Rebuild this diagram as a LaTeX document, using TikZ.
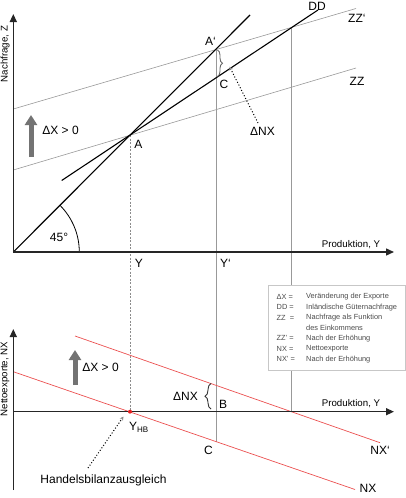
\documentclass[tikz,border=0pt]{standalone}
\usepackage{fontspec}
\setmainfont{Liberation Sans}
\usetikzlibrary{arrows.meta,decorations.pathreplacing}
\begin{document}
\begin{tikzpicture}[x=1pt,y=-1pt,
  axis/.style={line width=1.4pt,draw=black!85,-{Triangle[length=8pt,width=7pt]}},
  thinline/.style={line width=0.6pt,draw=black!40},
  mainline/.style={line width=1.1pt,draw=black},
  redline/.style={line width=0.7pt,draw={rgb,255:red,235;green,80;blue,80}},
  lbl/.style={font=\fontsize{12}{14}\selectfont,inner sep=0pt},
  axlbl/.style={font=\fontsize{9.7}{11}\selectfont,inner sep=0pt},
  leg/.style={font=\fontsize{7.4}{8}\selectfont,text=black!70,inner sep=0pt,anchor=west},
  bigarrow/.style={line width=5pt,draw=black!55,-{Triangle[length=10pt,width=12pt]}},
  leader/.style={dotted,line width=1pt,-{Stealth[length=4pt,width=4pt,black!45]}},
  bracestyle/.style={decorate,decoration={brace,amplitude=5pt}}
]
\useasboundingbox (0,0) rectangle (406,498);
% ---------- coordinates: upper diagram
\coordinate (O) at (13.3,252);
\coordinate (Ytop) at (13.3,14);
\coordinate (Xend) at (394,252);
\coordinate (L45) at (250,15);
\coordinate (DD1) at (61.7,180.5);
\coordinate (DD2) at (318,10);
\coordinate (ZZ1) at (13.3,170);
\coordinate (ZZ2) at (356,68);
\coordinate (ZZp1) at (13.3,109);
\coordinate (ZZp2) at (356,8.5);
\coordinate (A) at (130,135);
\coordinate (Ap) at (216.7,49.3);
\coordinate (Cu) at (216.7,77);
\coordinate (Q) at (291.7,27);
\coordinate (arc0) at (79.3,252);
% ---------- coordinates: lower diagram
\coordinate (O2) at (13.3,411.7);
\coordinate (Y2top) at (13.3,329);
\coordinate (Y2bot) at (13.3,490);
\coordinate (X2end) at (394,411.7);
\coordinate (YHB) at (130,411.7);
\coordinate (Cl) at (216.7,442);
\coordinate (Q2) at (291.7,411.7);
\coordinate (NX1) at (13.3,371.7);
\coordinate (NX2) at (355,489.5);
\coordinate (NXp1) at (75,336);
\coordinate (NXp2) at (380,442.7);
\coordinate (GA1) at (31,157);
\coordinate (GA2) at (31,115);
\coordinate (GB1) at (75,385);
\coordinate (GB2) at (75,350);
\coordinate (brU1) at (217.5,50);
\coordinate (brU2) at (217.5,76.5);
\coordinate (brL1) at (211,409);
\coordinate (brL2) at (211,383.5);
\coordinate (ldU1) at (258,123);
\coordinate (ldU2) at (229.5,66.5);
\coordinate (ldL1) at (88,468);
\coordinate (ldL2) at (123.5,416.5);

% ---------- thin gray lines
\draw[thinline] (ZZ1) -- (ZZ2);
\draw[thinline] (ZZp1) -- (ZZp2);
\draw[thinline] (Ap) -- (Cl);
\draw[thinline] (Q) -- (Q2);
\draw[thinline,dashed,dash pattern=on 2pt off 1.5pt,draw=black!45] (A) -- (YHB);

% ---------- main lines
\draw[mainline] (O) -- (L45);
\draw[mainline] (DD1) -- (DD2);
\draw[line width=0.8pt] (arc0) arc[start angle=0,end angle=-45,radius=66];

% ---------- red lines
\draw[redline] (NX1) -- (NX2);
\draw[redline] (NXp1) -- (NXp2);

% ---------- axes
\draw[axis] (O) -- (Ytop);
\draw[axis] (O) -- (Xend);
\draw[axis] (Y2bot) -- (Y2top);
\draw[axis] (O2) -- (X2end);

\node[circle,fill={rgb,255:red,230;green,30;blue,30},inner sep=0pt,minimum size=4pt] (dot) at (YHB) {};

% ---------- big gray arrows
\draw[bigarrow] (GA1) -- (GA2);
\draw[bigarrow] (GB1) -- (GB2);

% ---------- braces and leaders
\draw[bracestyle,draw=black!60,line width=0.9pt] (brU1) -- (brU2);
\draw[decorate,decoration={brace,amplitude=6pt},line width=0.9pt,draw=black!80] (brL1) -- (brL2);
\draw[leader] (ldU1) -- (ldU2);
\draw[leader] (ldL1) -- (ldL2);

% ---------- legend
\node[draw=black!22,fill=white,line width=0.6pt,minimum width=137pt,minimum height=85pt,inner sep=0pt] (legend) at (336.5,327.5) {};
\node[leg] (l1a) at (276.5,296.7) {ΔX =};
\node[leg] (l1b) at (306,296.7) {Veränderung der Exporte};
\node[leg] (l2a) at (276.5,307.1) {DD =};
\node[leg] (l2b) at (306,307.1) {Inländische Güternachfrage};
\node[leg] (l3a) at (276.5,317.5) {ZZ \ =};
\node[leg] (l3b) at (306,317.5) {Nachfrage als Funktion};
\node[leg] (l4b) at (306,327.9) {des Einkommens};
\node[leg] (l5a) at (276.5,338.3) {ZZ' =};
\node[leg] (l5b) at (306,338.3) {Nach der Erhöhung};
\node[leg] (l6a) at (276.5,348.7) {NX =};
\node[leg] (l6b) at (306,348.7) {Nettoexporte};
\node[leg] (l7a) at (276.5,359.1) {NX' =};
\node[leg] (l7b) at (306,359.1) {Nach der Erhöhung};

% ---------- labels upper
\node[axlbl,rotate=90] (ylab) at (5,54) {Nachfrage, Z};
\node[axlbl] (xlab) at (351,245) {Produktion, Y};
\node[lbl] (tDD) at (317,6.5) {DD};
\node[lbl,anchor=west] (tZZp) at (348,18.3) {ZZ‘};
\node[lbl,anchor=west] (tZZ) at (349.5,81.7) {ZZ};
\node[lbl,anchor=west] (tAp) at (205,41) {A‘};
\node[lbl] (tCu) at (224,84) {C};
\node[lbl] (tA) at (138.5,144) {A};
\node[lbl] (tdNXu) at (262.5,131.7) {ΔNX};
\node[lbl] (t45) at (59,237) {45°};
\node[lbl] (tdXu) at (60.5,130) {ΔX > 0};
\node[lbl] (tY) at (139,263) {Y};
\node[lbl,anchor=west] (tYp) at (220,263) {Y‘};

% ---------- labels lower
\node[axlbl,rotate=90] (ylab2) at (5,379) {Nettoexporte, NX};
\node[axlbl] (xlab2) at (351,403.5) {Produktion, Y};
\node[lbl] (tdXl) at (100.5,367) {ΔX > 0};
\node[lbl] (tdNXl) at (185.5,396.7) {ΔNX};
\node[lbl] (tB) at (223,404) {B};
\node[lbl] (tCl) at (208.5,450.5) {C};
\node[lbl] (tNXp) at (380,450) {NX‘};
\node[lbl] (tNX) at (368,488.5) {NX};
\node[lbl,anchor=west] (tYHB) at (129,427) {Y\textsubscript{HB}};
\node[lbl] (tHB) at (103.5,480) {Handelsbilanzausgleich};
\end{tikzpicture}
\end{document}
